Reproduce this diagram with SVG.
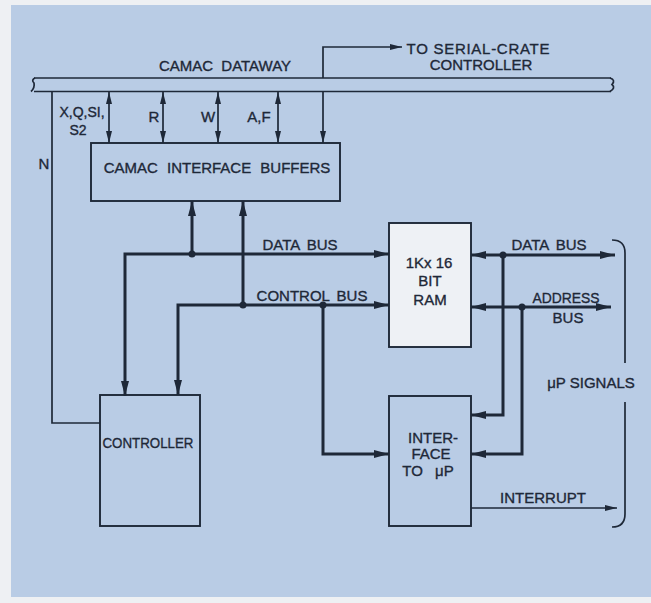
<svg xmlns="http://www.w3.org/2000/svg" width="651" height="603" viewBox="0 0 651 603">
<defs>
<style>
.ln{fill:none;stroke:#1e2838;stroke-width:1.7}
.bus{fill:none;stroke:#1e2838;stroke-width:3}
.box{fill:#b9cce5;stroke:#1e2838;stroke-width:1.9}
.ram{fill:#eef1f5;stroke:#1e2838;stroke-width:1.9}
.dot{fill:#1e2838}
text{font-family:"Liberation Sans",Arial,sans-serif;font-size:15px;fill:#1e2838;stroke:#1e2838;stroke-width:0.35;text-anchor:middle}
.sm{font-size:14px}
</style>
<marker id="at" viewBox="0 0 12 6" refX="12" refY="3" markerWidth="12" markerHeight="6" markerUnits="userSpaceOnUse" orient="auto-start-reverse"><path d="M0,0 L12,3 L0,6 z" fill="#1e2838"/></marker>
<marker id="ab" viewBox="0 0 15 8" refX="15" refY="4" markerWidth="15" markerHeight="8" markerUnits="userSpaceOnUse" orient="auto-start-reverse"><path d="M0,0 L15,4 L0,8 z" fill="#1e2838"/></marker>
</defs>
<rect x="0" y="0" width="651" height="603" fill="#eef0f3"/>
<rect x="11" y="5" width="640" height="592" fill="#b9cce5"/>

<g id="dataway">
<path class="ln" d="M34,78 H611 M34,91.5 H611" />
<path class="ln" d="M35,78 Q31,80 34,83 Q35,88 31,91.5" />
<path class="ln" d="M610,78 Q616,80 612,84.5 Q616,88 610,91.5" />
<text x="225" y="71" style="word-spacing:4px">CAMAC DATAWAY</text>
</g>

<g id="buffers">
<rect class="box" x="91" y="143" width="249" height="58"/>
<text x="217" y="173" style="word-spacing:5px">CAMAC INTERFACE BUFFERS</text>
</g>

<g id="ram">
<rect class="ram" x="389" y="223" width="82" height="124"/>
<text x="429" y="268">1Kx 16</text>
<text x="430" y="286">BIT</text>
<text x="430" y="305">RAM</text>
</g>

<g id="controller">
<rect class="box" x="100" y="395" width="100" height="131"/>
<text x="148" y="448" textLength="91" lengthAdjust="spacingAndGlyphs">CONTROLLER</text>
</g>

<g id="interface">
<rect class="box" x="389" y="396" width="82" height="130"/>
<text x="433" y="443">INTER-</text>
<text x="431" y="459">FACE</text>
<text x="428" y="476" style="word-spacing:8px">TO μP</text>
</g>

<g id="connectors">
<path class="ln" d="M323,78 V47 H402" marker-end="url(#at)"/>
<path class="ln" d="M52,91.5 V423 H100"/>
<path class="ln" d="M109,92 V143" marker-start="url(#at)" marker-end="url(#at)"/>
<path class="ln" d="M163,92 V143" marker-start="url(#at)" marker-end="url(#at)"/>
<path class="ln" d="M218,92 V143" marker-start="url(#at)" marker-end="url(#at)"/>
<path class="ln" d="M278,92 V143" marker-start="url(#at)" marker-end="url(#at)"/>
<path class="ln" d="M323,92 V143" marker-end="url(#at)"/>
<path class="bus" d="M192,254 V201" marker-end="url(#ab)"/>
<path class="bus" d="M243,305 V201" marker-end="url(#ab)"/>
<path class="bus" d="M125,396 V254 H389" marker-start="url(#ab)" marker-end="url(#ab)"/>
<path class="bus" d="M178,395 V305 H389" marker-start="url(#ab)" marker-end="url(#ab)"/>
<path class="bus" d="M323,305 V454 H389" marker-end="url(#ab)"/>
<path class="bus" d="M471,255 H615" marker-start="url(#ab)" marker-end="url(#ab)"/>
<path class="bus" d="M503,255 V415 H471" marker-end="url(#ab)"/>
<path class="bus" d="M471,307 H611" marker-start="url(#ab)" marker-end="url(#ab)"/>
<path class="bus" d="M522,307 V454 H471" marker-end="url(#ab)"/>
<path class="ln" d="M471,508 H617" marker-end="url(#at)"/>
<path class="ln" d="M612,240 Q625,240 625,253 V363"/>
<path class="ln" d="M625,402 V514 Q625,527 612,527"/>
<circle class="dot" cx="192" cy="254" r="3.5"/>
<circle class="dot" cx="243" cy="305" r="3.5"/>
<circle class="dot" cx="323" cy="305" r="3.5"/>
<circle class="dot" cx="503" cy="255" r="3.5"/>
<circle class="dot" cx="522" cy="307" r="3.5"/>
</g>

<g id="labels">
<text x="478" y="54" textLength="143" lengthAdjust="spacing">TO SERIAL-CRATE</text>
<text x="481" y="70">CONTROLLER</text>
<text class="sm" x="82" y="117">X,Q,SI,</text>
<text class="sm" x="78" y="135">S2</text>
<text x="154" y="122">R</text>
<text x="208" y="122">W</text>
<text x="259" y="122">A,F</text>
<text x="44" y="169">N</text>
<text x="300" y="250" style="word-spacing:3px">DATA BUS</text>
<text x="312" y="301" style="word-spacing:3px">CONTROL BUS</text>
<text x="549" y="250" style="word-spacing:3px">DATA BUS</text>
<text x="566" y="303" textLength="67" lengthAdjust="spacingAndGlyphs">ADDRESS</text>
<text x="568" y="323">BUS</text>
<text x="591" y="388">μP SIGNALS</text>
<text x="543" y="503">INTERRUPT</text>
</g>
</svg>
